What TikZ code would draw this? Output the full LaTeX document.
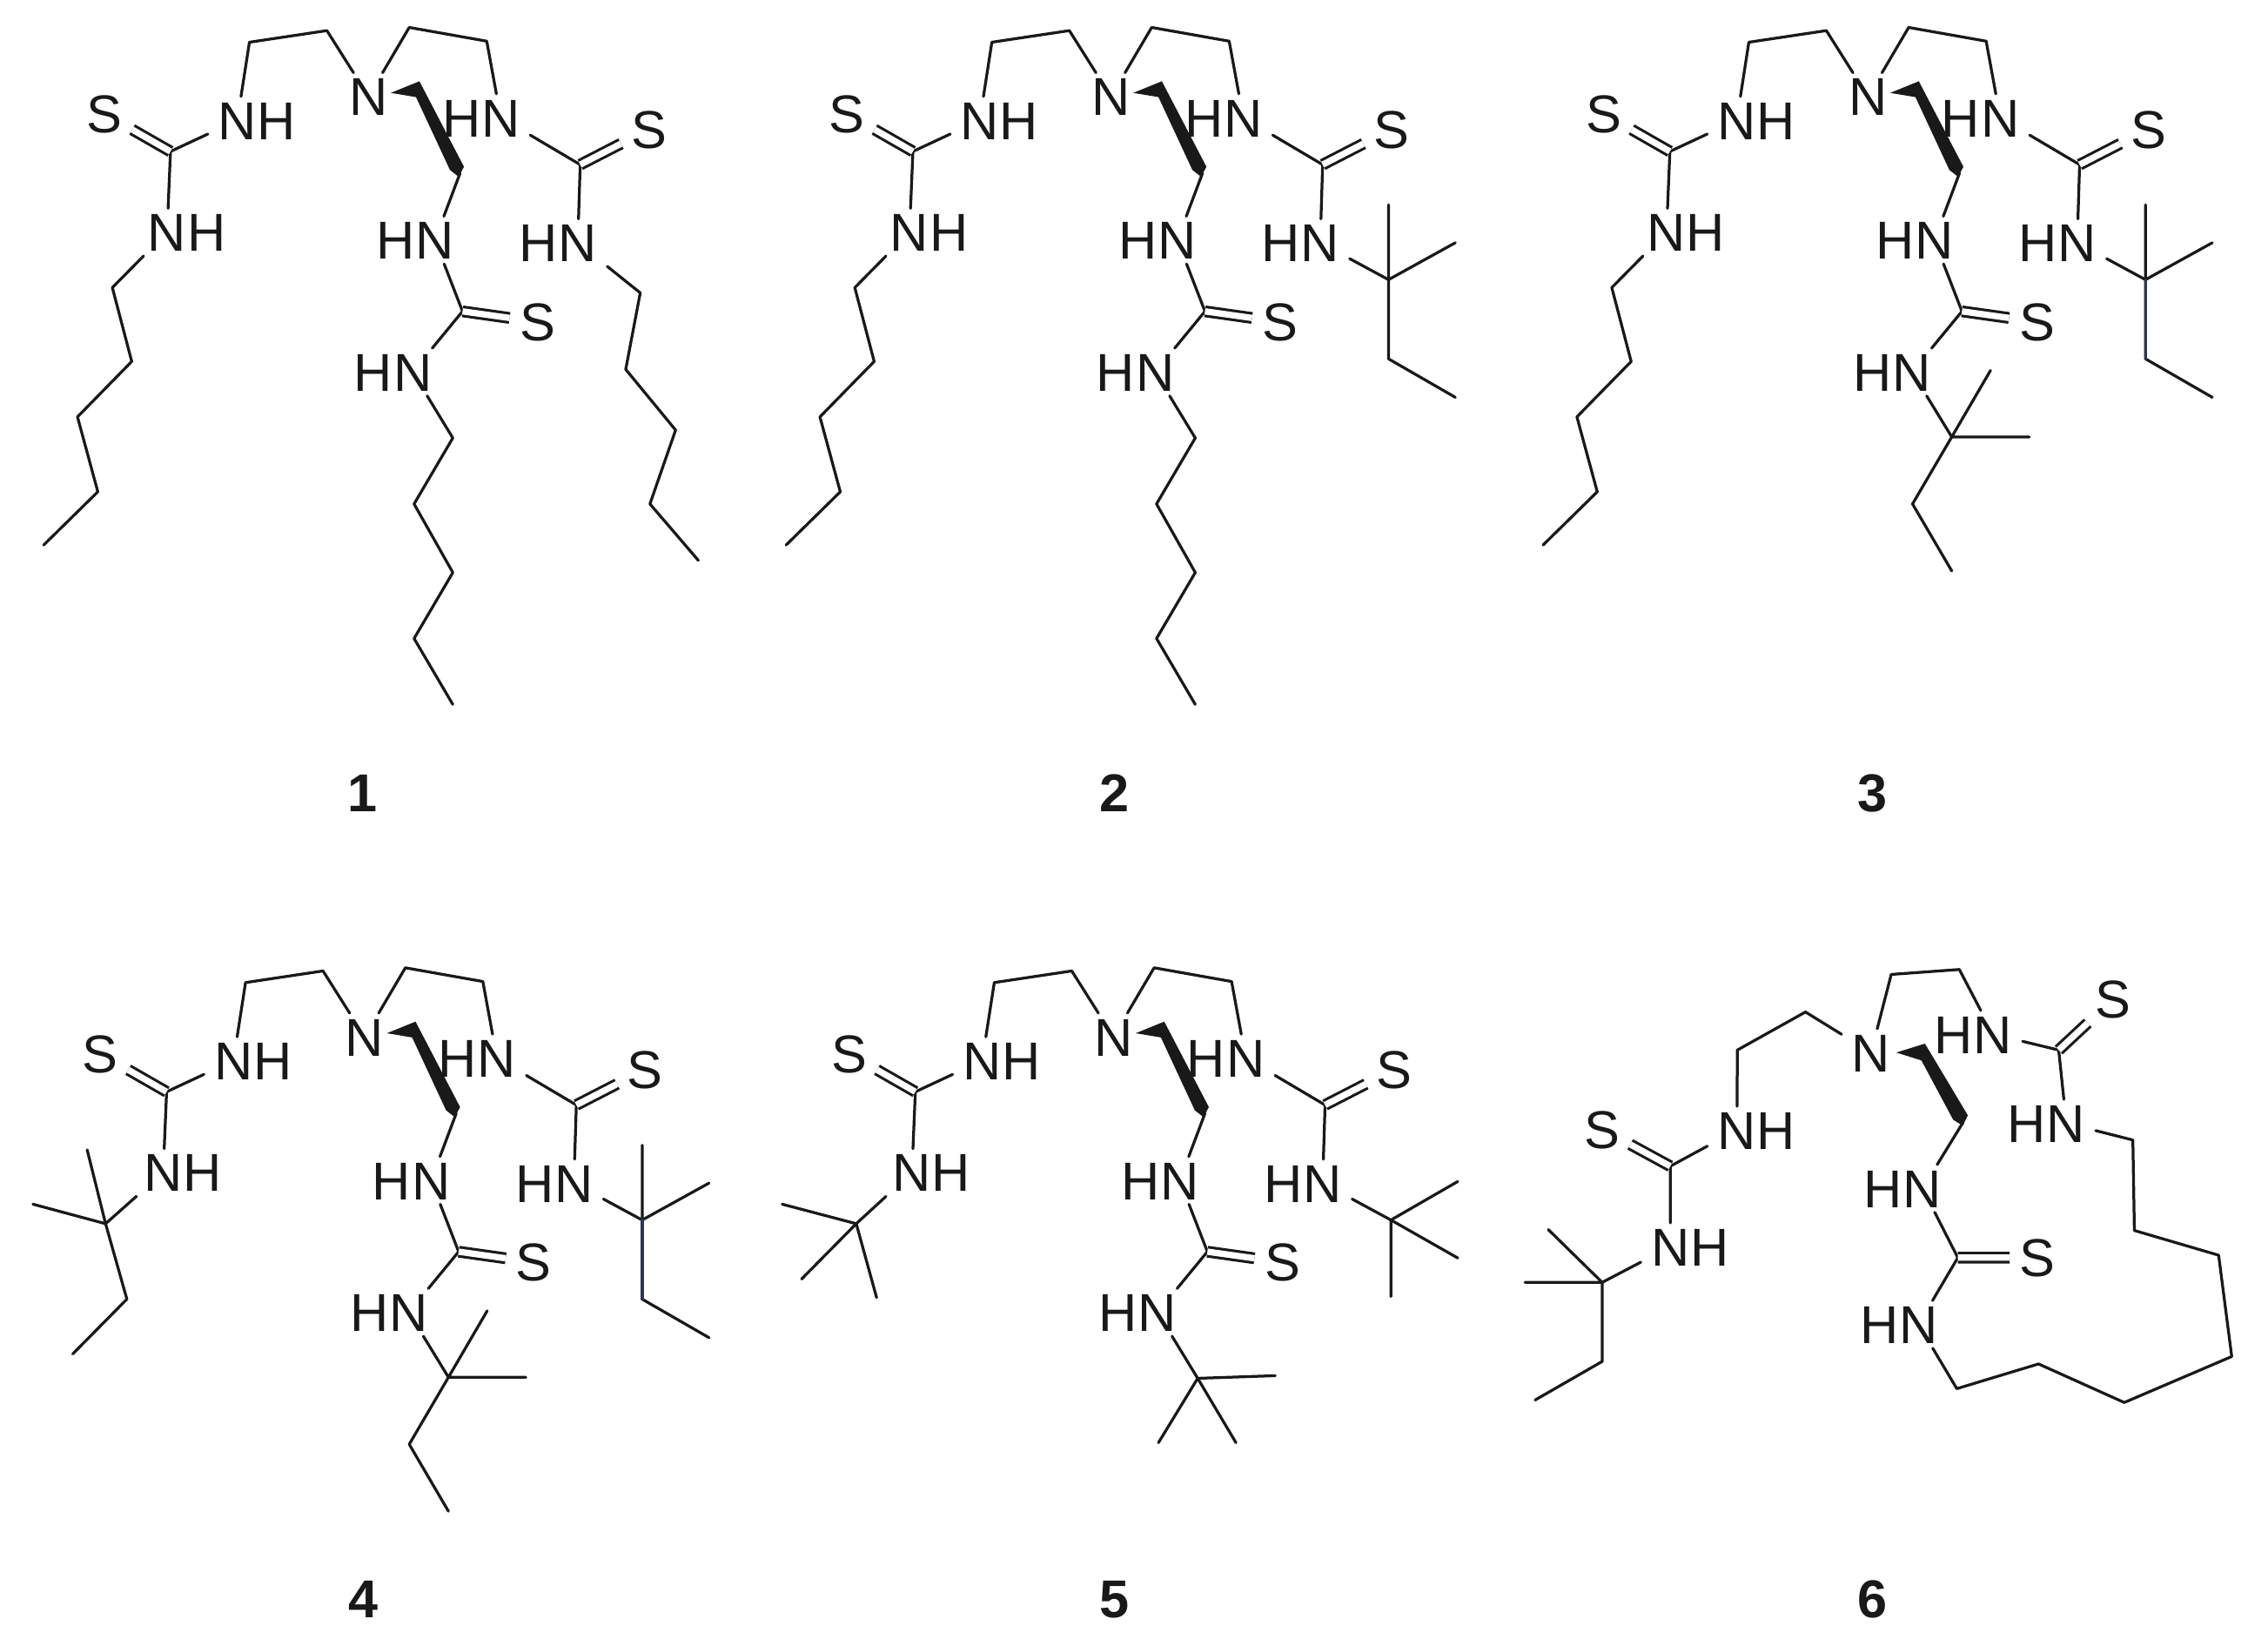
\documentclass[tikz,border=0pt]{standalone}
\usepackage{fontspec}
\setmainfont{Liberation Sans}
\usetikzlibrary{positioning}
\definecolor{slatebond}{HTML}{2E3550}
\tikzset{
  bond/.style={line width=1.3pt,line join=round,line cap=round,black!90},
  dbond/.style={double,double distance=2.9pt,line width=1.25pt,black!90},
  atom/.style={font=\fontsize{24.5}{24.5}\selectfont,inner xsep=4.5pt,inner ysep=2pt,text height=17.5pt,text depth=0pt,black!90},
  hatom/.style={atom,inner xsep=0pt},
  cmpd/.style={font=\fontsize{24.5}{24.5}\selectfont\bfseries,inner sep=0pt,black!90}
}
% N with its H on the right or on the left
\newcommand{\nhright}[2]{\node[atom] (#1) at (#2) {N}; \node[hatom,right=-4.5pt of #1] (#1h) {H};}
\newcommand{\nhleft}[2]{\node[atom] (#1) at (#2) {N}; \node[hatom,left=-4.5pt of #1] (#1h) {H};}
% the part shared by molecules 1 to 5
\newcommand{\tripodcore}{
  \node[atom] (n0) at (761,183) {N};
  \nhright{n1}{490,228}
  \nhright{n2}{345,440}
  \nhleft{n3}{1034,223}
  \nhleft{n4}{1193,460}
  \nhleft{n5}{898,455}
  \nhleft{n6}{852,705}
  \node[atom] (s1) at (215,215) {S};
  \node[atom] (s2) at (1340,245) {S};
  \node[atom] (s3) at (1110,610) {S};
  \coordinate (c1) at (352,287);
  \coordinate (c2) at (1198,312);
  \coordinate (c3) at (955,590);
  \coordinate (a1) at (515,80);
  \coordinate (a2) at (675,58);
  \coordinate (b1) at (845,52);
  \coordinate (b2) at (1005,78);
  \coordinate (w0) at (807,176);
  \coordinate (w2) at (950,328);
  \draw[bond] (n1) -- (a1) -- (a2) -- (n0) -- (b1) -- (b2) -- (n3) -- (c2) -- (n4);
  \draw[bond] (n1) -- (c1) -- (n2);
  \draw[bond] (w2) -- (n5) -- (c3) -- (n6);
  \draw[dbond] (c1) -- (s1);
  \draw[dbond] (c2) -- (s2);
  \draw[dbond] (c3) -- (s3);
  \fill[black!90] (w0) -- (866,154) -- (958,316) -- (947,335) -- (929,322) -- (859,184) -- cycle;
}
\newcommand{\leftpentyl}{
  \coordinate (l1) at (232,545);
  \coordinate (l2) at (272,685);
  \coordinate (l3) at (160,790);
  \coordinate (l4) at (202,932);
  \coordinate (l5) at (90,1033);
  \draw[bond] (n2) -- (l1) -- (l2) -- (l3) -- (l4) -- (l5);
}
\newcommand{\midpentyl}{
  \coordinate (k1) at (935,830);
  \coordinate (k2) at (855,955);
  \coordinate (k3) at (935,1085);
  \coordinate (k4) at (855,1210);
  \coordinate (k5) at (935,1335);
  \draw[bond] (n6) -- (k1) -- (k2) -- (k3) -- (k4) -- (k5);
}
\newcommand{\rightamyl}{
  \coordinate (r1) at (1334,530);
  \coordinate (r2) at (1334,388);
  \coordinate (r3) at (1472,460);
  \coordinate (r4) at (1334,680);
  \coordinate (r5) at (1472,753);
  \draw[bond] (n4) -- (r1) -- (r4) -- (r5);
  \draw[bond] (r2) -- (r1) -- (r3);
}
\newcommand{\midamyl}{
  \coordinate (k1) at (934,828);
  \coordinate (k2) at (1014,702);
  \coordinate (k3) at (1094,828);
  \coordinate (k4) at (853,955);
  \coordinate (k5) at (934,1082);
  \draw[bond] (n6) -- (k1) -- (k4) -- (k5);
  \draw[bond] (k2) -- (k1) -- (k3);
}
\begin{document}
\begin{tikzpicture}[x=.2226pt,y=-.2425pt]
  \useasboundingbox (0,0) rectangle (4683,3118);

  \begin{scope}[name prefix=m1-]
    \tripodcore
    \leftpentyl
    \midpentyl
    \coordinate (r1) at (1322,555);
    \coordinate (r2) at (1292,700);
    \coordinate (r3) at (1395,815);
    \coordinate (r4) at (1342,955);
    \coordinate (r5) at (1442,1062);
    \draw[bond] (n4) -- (r1) -- (r2) -- (r3) -- (r4) -- (r5);
  \end{scope}
  \node[cmpd] (lab1) at (748,1503) {1};

  \begin{scope}[shift={(1533,0)},name prefix=m2-]
    \tripodcore
    \leftpentyl
    \midpentyl
    \rightamyl
  \end{scope}
  \node[cmpd] (lab2) at (2301,1503) {2};

  \begin{scope}[shift={(3096,0)},name prefix=m3-]
    \tripodcore
    \leftpentyl
    \midamyl
    \rightamyl
    \draw[bond,slatebond] (r1) -- (r4);
  \end{scope}
  \node[cmpd] (lab3) at (3867,1503) {3};

  \begin{scope}[shift={(-8,1782)},name prefix=m4-]
    \tripodcore
    \midamyl
    \rightamyl
    \draw[bond,slatebond] (r1) -- (r4);
    \coordinate (l1) at (226,537);
    \coordinate (l2) at (188,397);
    \coordinate (l3) at (76,500);
    \coordinate (l4) at (270,680);
    \coordinate (l5) at (158,784);
    \draw[bond] (n2) -- (l1) -- (l4) -- (l5);
    \draw[bond] (l2) -- (l1) -- (l3);
  \end{scope}
  \node[cmpd] (lab4) at (750,3031) {4};

  \begin{scope}[shift={(1538,1782)},name prefix=m5-]
    \tripodcore
    \coordinate (l1) at (230,537);
    \coordinate (l2) at (77,500);
    \coordinate (l3) at (117,642);
    \coordinate (l4) at (272,677);
    \draw[bond] (n2) -- (l1) -- (l2);
    \draw[bond] (l3) -- (l1) -- (l4);
    \coordinate (k1) at (935,830);
    \coordinate (k2) at (1095,825);
    \coordinate (k3) at (854,952);
    \coordinate (k4) at (1014,952);
    \draw[bond] (n6) -- (k1) -- (k2);
    \draw[bond] (k3) -- (k1) -- (k4);
    \coordinate (r1) at (1334,530);
    \coordinate (r2) at (1472,457);
    \coordinate (r3) at (1472,602);
    \coordinate (r4) at (1334,675);
    \draw[bond] (n4) -- (r1) -- (r2);
    \draw[bond] (r3) -- (r1) -- (r4);
  \end{scope}
  \node[cmpd] (lab5) at (2301,3031) {5};

  \begin{scope}[shift={(3053,1648)},xscale=1.0414,yscale=.9368,name prefix=m6-]
    \node[atom] (n0) at (778,370) {N};
    \nhright{n1}{512,527}
    \nhright{n2}{380,763}
    \nhleft{n3}{1020,333}
    \nhleft{n4}{1165,513}
    \nhleft{n5}{880,645}
    \nhleft{n6}{872,920}
    \node[atom] (s1) at (245,525) {S};
    \node[atom] (s2) at (1258,262) {S};
    \node[atom] (s3) at (1108,785) {S};
    \coordinate (c1) at (380,600);
    \coordinate (c2) at (1150,365);
    \coordinate (c3) at (950,785);
    \coordinate (a1) at (513,365);
    \coordinate (a2) at (648,288);
    \coordinate (b1) at (818,212);
    \coordinate (b2) at (953,202);
    \coordinate (w0) at (828,370);
    \coordinate (w2) at (960,512);
    \coordinate (r1) at (1297,547);
    \coordinate (r2) at (1300,730);
    \coordinate (r3) at (1467,780);
    \coordinate (r4) at (1493,985);
    \coordinate (r5) at (1280,1078);
    \coordinate (r6) at (1110,1000);
    \coordinate (r7) at (948,1050);
    \coordinate (l1) at (245,835);
    \coordinate (l2) at (138,728);
    \coordinate (l3) at (92,835);
    \coordinate (l4) at (245,995);
    \coordinate (l5) at (112,1073);
    \draw[bond] (n1) -- (a1) -- (a2) -- (n0) -- (b1) -- (b2) -- (n3) -- (c2) -- (n4) -- (r1) -- (r2) -- (r3) -- (r4) -- (r5) -- (r6) -- (r7) -- (n6) -- (c3) -- (n5) -- (w2);
    \draw[bond] (n1) -- (c1) -- (n2) -- (l1) -- (l4) -- (l5);
    \draw[bond] (l2) -- (l1) -- (l3);
    \draw[dbond] (c1) -- (s1);
    \draw[dbond] (c2) -- (s2);
    \draw[dbond] (c3) -- (s3);
    \fill[black!90] (w0) -- (885,352) -- (970,497) -- (960,518) -- (941,506) -- (878,386) -- cycle;
  \end{scope}
  \node[cmpd] (lab6) at (3866,3031) {6};
\end{tikzpicture}
\end{document}
